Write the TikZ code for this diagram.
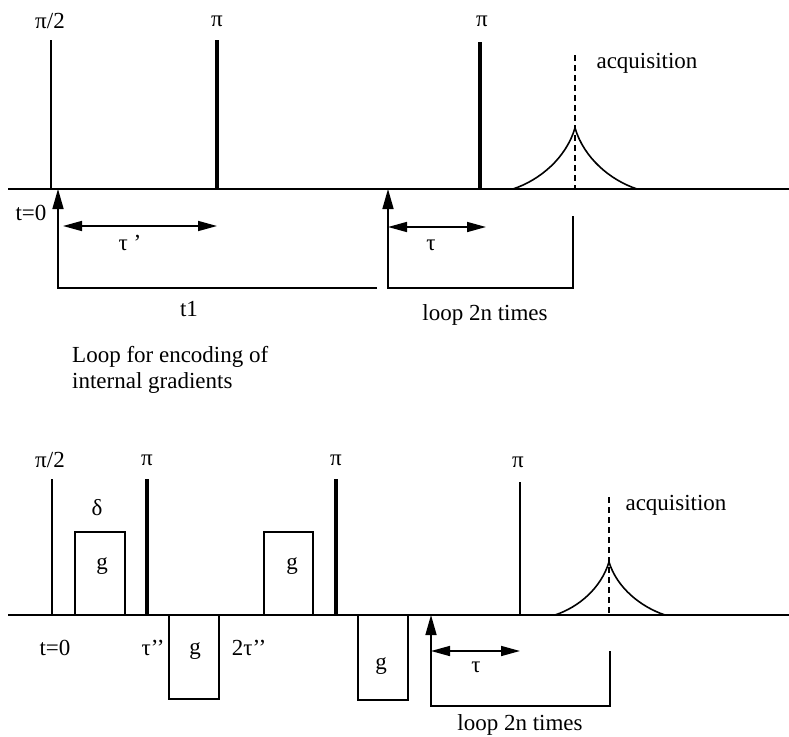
\documentclass[tikz,border=0pt]{standalone}
\usepackage{fontspec}
\setmainfont{Liberation Serif}
\usetikzlibrary{arrows.meta}
\begin{document}
\begin{tikzpicture}[x=1pt,y=-1pt,
  line/.style={line width=1.6pt},
  hardpulse/.style={line width=3.2pt},
  softpulse/.style={line width=1.7pt},
  lbl/.style={font=\fontsize{23}{26}\selectfont, inner sep=0pt},
  dbl/.style={line width=1.6pt, {Triangle[length=19pt,width=10pt]}-{Triangle[length=19pt,width=10pt]}},
  uparr/.style={line width=1.6pt, -{Triangle[length=20pt,width=11pt]}},
  acq/.style={line width=1.6pt, dash pattern=on 6pt off 4pt},
  gbox/.style={draw, line width=1.6pt}
]
\useasboundingbox (0,0) rectangle (789,736);

% ================= TOP SEQUENCE =================
\coordinate (tL) at (8,189);
\coordinate (tR) at (789,189);
\draw[line] (tL) -- (tR);

% pulses
\coordinate (tp1a) at (51,40);  \coordinate (tp1b) at (51,189);
\coordinate (tp2a) at (217,40); \coordinate (tp2b) at (217,189);
\coordinate (tp3a) at (480,42); \coordinate (tp3b) at (480,189);
\draw[softpulse] (tp1a) -- (tp1b);
\draw[hardpulse] (tp2a) -- (tp2b);
\draw[hardpulse] (tp3a) -- (tp3b);
\node[lbl] (tlp1) at (50,21) {π/2};
\node[lbl] (tlp2) at (217,21) {π};
\node[lbl] (tlp3) at (482,21) {π};

% acquisition
\coordinate (tacqT) at (575,55);
\coordinate (tacqB) at (575,189);
\draw[acq] (tacqT) -- (tacqB);
\coordinate (tpk) at (575,128);
\coordinate (tcl) at (513,189);
\coordinate (tcr) at (637,189);
\draw[line] (tcl) .. controls (540,180) and (566,158) .. (tpk)
                   .. controls (584,158) and (610,180) .. (tcr);
\node[lbl] (tacq) at (647,63) {acquisition};

% t=0 and brackets
\node[lbl] (tt0) at (31,213) {t=0};
\coordinate (tb1) at (377,288);
\coordinate (tb2) at (58,288);
\coordinate (tb3) at (58,189);
\draw[uparr] (tb1) -- (tb2) -- (tb3);
\coordinate (tda) at (63,226);
\coordinate (tdb) at (217,226);
\draw[dbl] (tda) -- (tdb);
\node[lbl] (ttaup) at (130,243) {τ ’};
\node[lbl] (tt1) at (189,309) {t1};

\coordinate (tl1) at (573,216);
\coordinate (tl2) at (573,288);
\coordinate (tl3) at (388,288);
\coordinate (tl4) at (388,189);
\draw[uparr] (tl1) -- (tl2) -- (tl3) -- (tl4);
\coordinate (tea) at (388,227);
\coordinate (teb) at (486,227);
\draw[dbl] (tea) -- (teb);
\node[lbl] (ttau) at (431,245) {τ};
\node[lbl] (tloop) at (485,315) {loop 2n times};

\node[lbl, anchor=west, align=left] (enc) at (72,370) {Loop for encoding of\\internal gradients};

% ================= BOTTOM SEQUENCE =================
\coordinate (bL) at (8,615);
\coordinate (bR) at (789,615);
\draw[line] (bL) -- (bR);

\coordinate (bp1a) at (52,479);  \coordinate (bp1b) at (52,615);
\coordinate (bp2a) at (147,479); \coordinate (bp2b) at (147,615);
\coordinate (bp3a) at (336,479); \coordinate (bp3b) at (336,615);
\coordinate (bp4a) at (520,482); \coordinate (bp4b) at (520,615);
\draw[softpulse] (bp1a) -- (bp1b);
\draw[hardpulse] (bp2a) -- (bp2b);
\draw[hardpulse] (bp3a) -- (bp3b);
\draw[softpulse] (bp4a) -- (bp4b);
\node[lbl] (blp1) at (50,460) {π/2};
\node[lbl] (blp2) at (147,460) {π};
\node[lbl] (blp3) at (336,460) {π};
\node[lbl] (blp4) at (518,462) {π};

% gradient boxes
\draw[line] (75,615) rectangle (125,532);
\node[lbl] (g1) at (102,566) {g};
\node[lbl] (delta) at (97,508) {δ};
\draw[line] (169,615) rectangle (219,699);
\node[lbl] (g2) at (195,651) {g};
\draw[line] (264,615) rectangle (313,532);
\node[lbl] (g3) at (292,566) {g};
\draw[line] (358,615) rectangle (408,700);
\node[lbl] (g4) at (381,666) {g};

\node[lbl] (bt0) at (55,648) {t=0};
\node[lbl] (btau2) at (153,648) {τ’’};
\node[lbl] (b2tau2) at (249,648) {2τ’’};

% acquisition
\coordinate (bacqT) at (609,497);
\coordinate (bacqB) at (609,615);
\draw[acq] (bacqT) -- (bacqB);
\coordinate (bpk) at (609,562);
\coordinate (bcl) at (555,615);
\coordinate (bcr) at (665,615);
\draw[line] (bcl) .. controls (579,607) and (601,588) .. (bpk)
                   .. controls (617,588) and (641,607) .. (bcr);
\node[lbl] (bacq) at (676,505) {acquisition};

% loop bracket
\coordinate (bl1) at (610,651);
\coordinate (bl2) at (610,706);
\coordinate (bl3) at (431,706);
\coordinate (bl4) at (431,615);
\draw[uparr] (bl1) -- (bl2) -- (bl3) -- (bl4);
\coordinate (bea) at (431,651);
\coordinate (beb) at (520,651);
\draw[dbl] (bea) -- (beb);
\node[lbl] (btau) at (476,667) {τ};
\node[lbl] (bloop) at (520,725) {loop 2n times};

\end{tikzpicture}
\end{document}
